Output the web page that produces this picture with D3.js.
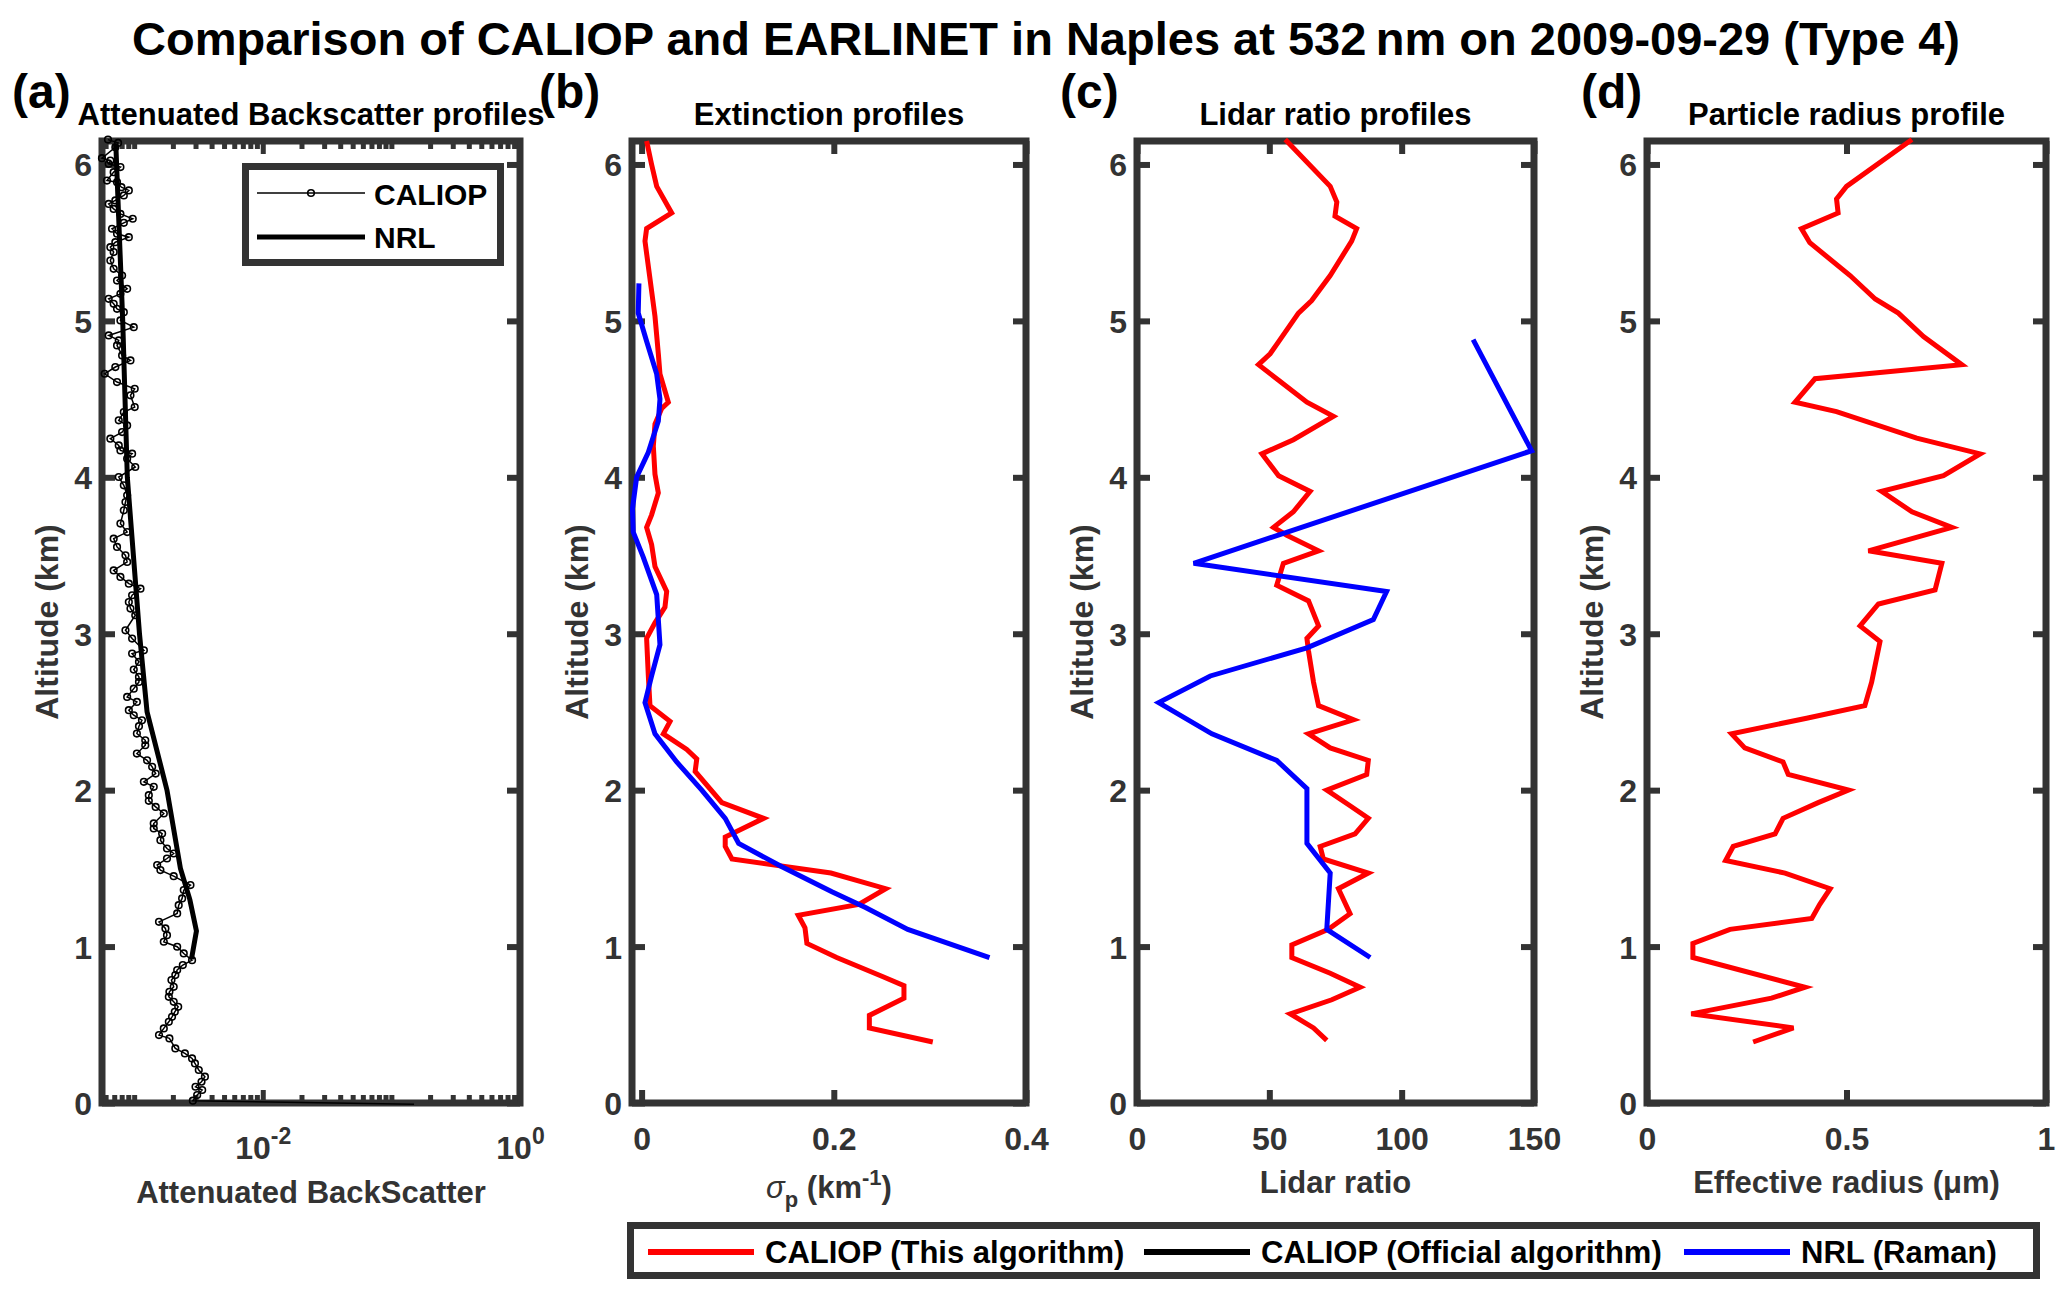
<!DOCTYPE html>
<html><head><meta charset="utf-8">
<script src="https://cdn.jsdelivr.net/npm/d3@7"></script>
<style>
body{margin:0;background:#fff}
text{font-family:"Liberation Sans",Arial,Helvetica,sans-serif;font-weight:bold}
</style></head>
<body><svg id="c" width="2067" height="1298"></svg>
<script>
// ---------------- DATA ----------------
const chartTitle = "Comparison of CALIOP and EARLINET in Naples at 532\u2009nm on 2009-09-29 (Type 4)";
const panelLetters = ["(a)", "(b)", "(c)", "(d)"];
const panelTitles = ["Attenuated Backscatter profiles", "Extinction profiles", "Lidar ratio profiles", "Particle radius profile"];
const yLabel = "Altitude (km)";
const xLabels = ["Attenuated BackScatter", "σp (km-1)", "Lidar ratio", "Effective radius (μm)"];
const altTicks = [0, 1, 2, 3, 4, 5, 6];
const logMajorTicks = [1e-2, 1];
const extTicks = [0, 0.2, 0.4];
const lidarTicks = [0, 50, 100, 150];
const radiusTicks = [0, 0.5, 1];
const legendA = ["CALIOP", "NRL"];
const legendMain = ["CALIOP (This algorithm)", "CALIOP (Official algorithm)", "NRL (Raman)"];

// (a) attenuated backscatter
const attCaliopAlt = [6.159,6.138,6.110,6.040,6.025,6.004,5.983,5.951,5.897,5.887,5.855,5.834,5.802,5.770,5.748,5.716,5.684,5.653,5.627,5.589,
5.557,5.535,5.503,5.471,5.440,5.386,5.333,5.290,5.258,5.205,5.173,5.141,5.109,5.077,5.056,5.003,4.960,4.907,4.875,4.843,
4.779,4.747,4.705,4.662,4.609,4.566,4.524,4.449,4.417,4.364,4.332,4.289,4.247,4.204,4.172,4.151,4.119,4.066,4.002,3.949,
3.885,3.842,3.789,3.704,3.650,3.608,3.555,3.501,3.459,3.405,3.363,3.320,3.288,3.246,3.203,3.161,3.118,3.022,
2.969,2.894,2.873,2.820,2.771,2.724,2.692,2.649,2.596,2.564,2.511,2.479,2.447,2.409,2.362,2.319,2.287,2.234,2.191,2.149,
2.106,2.053,2.021,1.968,1.932,1.893,1.851,1.787,1.755,1.723,1.680,1.627,1.595,1.563,1.521,1.489,1.450,1.393,1.361,1.308,
1.265,1.212,1.158,1.116,1.073,1.031,0.999,0.956,0.913,0.882,0.850,0.818,0.786,0.743,0.711,0.679,0.647,0.615,0.583,0.551,
0.519,0.477,0.434,0.413,0.349,0.317,0.285,0.253,0.211,0.168,0.136,0.104,0.083,0.051,0.015,-0.008];
const attCaliopVal = [6.26e-4,7.50e-4,7.14e-4,5.62e-4,6.53e-4,6.34e-4,7.82e-4,6.93e-4,6.15e-4,7.36e-4,7.96e-4,9.09e-4,8.31e-4,7.14e-4,6.34e-4,6.93e-4,7.82e-4,9.75e-4,8.31e-4,6.73e-4,
7.36e-4,9.09e-4,7.14e-4,6.53e-4,6.93e-4,6.53e-4,6.93e-4,8.06e-4,7.36e-4,8.82e-4,7.82e-4,6.34e-4,6.93e-4,7.36e-4,8.31e-4,7.82e-4,9.93e-4,6.34e-4,7.59e-4,7.36e-4,
8.06e-4,9.36e-4,7.14e-4,5.90e-4,7.36e-4,1.01e-3,9.36e-4,1.01e-3,8.31e-4,7.59e-4,8.82e-4,8.06e-4,6.53e-4,7.59e-4,7.82e-4,9.64e-4,8.82e-4,1.02e-3,7.59e-4,8.31e-4,
8.82e-4,8.56e-4,8.31e-4,7.82e-4,8.82e-4,6.93e-4,7.36e-4,8.56e-4,8.82e-4,6.93e-4,7.82e-4,9.09e-4,1.12e-3,9.64e-4,9.09e-4,9.36e-4,1.02e-3,8.56e-4,
9.64e-4,1.19e-3,9.64e-4,1.09e-3,9.93e-4,1.09e-3,1.09e-3,9.93e-4,8.82e-4,1.05e-3,9.09e-4,9.93e-4,1.15e-3,1.09e-3,1.05e-3,1.22e-3,1.22e-3,1.05e-3,1.26e-3,1.38e-3,
1.47e-3,1.19e-3,1.42e-3,1.30e-3,1.30e-3,1.47e-3,1.70e-3,1.42e-3,1.42e-3,1.65e-3,1.60e-3,1.80e-3,2.03e-3,1.80e-3,1.51e-3,1.60e-3,2.03e-3,2.74e-3,2.43e-3,2.36e-3,
2.22e-3,2.16e-3,1.56e-3,1.75e-3,1.80e-3,1.70e-3,2.16e-3,2.43e-3,2.82e-3,2.39e-3,2.16e-3,2.09e-3,1.95e-3,2.03e-3,1.88e-3,1.86e-3,2.03e-3,2.20e-3,2.07e-3,1.97e-3,
1.86e-3,1.70e-3,1.56e-3,1.88e-3,2.09e-3,2.48e-3,2.82e-3,2.97e-3,3.18e-3,3.55e-3,3.34e-3,3.00e-3,3.38e-3,3.09e-3,2.86e-3,0.15];
const attNrlAlt = [6.13, 5.0, 4.0, 3.0, 2.5, 2.0, 1.5, 1.3, 1.1, 0.92];
const attNrlVal = [7.2e-4, 8.15e-4, 8.85e-4, 1.10e-3, 1.26e-3, 1.80e-3, 2.29e-3, 2.71e-3, 3.05e-3, 2.79e-3];

// (b) extinction
const extCaliopAlt = [6.15,6.00,5.86,5.69,5.59,5.51,5.03,4.79,4.66,4.48,4.44,4.34,4.20,4.02,3.90,3.76,3.68,3.57,3.43,3.27,3.17,3.07,2.97,2.73,2.54,2.44,2.36,2.26,2.20,2.12,1.92,1.82,1.70,1.64,1.56,1.47,1.37,1.27,1.20,1.12,1.02,0.93,0.81,0.75,0.67,0.56,0.48,0.39];
const extCaliopVal = [0.0052,0.0104,0.0157,0.0313,0.0052,0.0035,0.0139,0.0174,0.0191,0.0278,0.0209,0.0139,0.0122,0.0139,0.0174,0.0104,0.0052,0.0104,0.0139,0.0261,0.0243,0.0139,0.0052,0.0070,0.0087,0.0296,0.0226,0.0470,0.0574,0.0557,0.0835,0.127,0.087,0.087,0.094,0.197,0.254,0.226,0.163,0.170,0.172,0.203,0.250,0.273,0.273,0.237,0.237,0.303];
const extNrlAlt = [5.24,5.05,4.87,4.66,4.50,4.36,4.16,4.00,3.80,3.65,3.49,3.25,2.93,2.73,2.56,2.36,2.18,2.00,1.82,1.66,1.51,1.35,1.25,1.11,0.93];
const extNrlVal = [-0.0028,-0.0035,0.0052,0.0157,0.0191,0.0174,0.0070,-0.0052,-0.0095,-0.0087,0.0017,0.0157,0.0191,0.0104,0.0035,0.0139,0.0365,0.0626,0.087,0.101,0.146,0.198,0.233,0.277,0.362];

// (c) lidar ratio
const lrCaliopAlt = [6.16,5.86,5.76,5.67,5.59,5.51,5.29,5.13,5.05,4.85,4.79,4.72,4.62,4.48,4.39,4.24,4.15,4.01,3.91,3.78,3.68,3.63,3.53,3.45,3.31,3.21,3.05,2.97,2.89,2.69,2.54,2.45,2.36,2.27,2.19,2.10,2.00,1.90,1.82,1.72,1.64,1.56,1.47,1.37,1.21,1.11,1.01,0.93,0.83,0.74,0.66,0.57,0.48,0.40];
const lrCaliopVal = [56.0,73.0,75.5,74.8,83.0,81.1,73.0,66.0,61.0,52.8,50.3,45.9,53.5,64.2,74.2,59.1,47.2,53.5,65.4,59.1,51.6,56.6,68.6,55.3,52.8,64.8,68.6,64.2,64.8,66.7,68.6,81.8,64.8,73.0,87.4,86.8,71.7,80.5,87.4,82.4,69.2,70.4,87.4,76.1,80.5,72.3,58.5,58.5,73.0,84.3,73.6,57.9,66.7,71.7];
const lrNrlAlt = [4.88,4.17,3.45,3.27,3.09,2.91,2.73,2.56,2.36,2.19,2.01,1.66,1.47,1.11,0.93];
const lrNrlVal = [127.0,149.1,21.4,94.3,89.3,64.2,27.7,8.2,28.3,52.8,64.2,64.2,73.0,71.7,88.1];

// (d) effective radius
const radCaliopAlt = [6.16,5.86,5.78,5.69,5.59,5.50,5.29,5.14,5.05,4.90,4.72,4.63,4.48,4.42,4.25,4.15,4.01,3.91,3.78,3.68,3.53,3.45,3.28,3.19,3.05,2.95,2.69,2.54,2.46,2.36,2.27,2.18,2.10,2.00,1.92,1.82,1.72,1.64,1.55,1.47,1.37,1.27,1.18,1.11,1.02,0.93,0.74,0.67,0.57,0.48,0.39];
const radCaliopVal = [0.664,0.500,0.475,0.479,0.387,0.408,0.509,0.572,0.630,0.693,0.789,0.421,0.371,0.475,0.676,0.835,0.743,0.588,0.664,0.764,0.555,0.739,0.722,0.580,0.534,0.584,0.563,0.546,0.400,0.212,0.245,0.341,0.354,0.505,0.429,0.341,0.321,0.216,0.197,0.346,0.459,0.433,0.413,0.208,0.115,0.115,0.396,0.312,0.111,0.367,0.266];

// ---------------- DRAWING ----------------
const svg = d3.select("#c");
const AX = "#333333";
const TOP = 141, BOT = 1103;
const y = d3.scaleLinear().domain([0, 6.15]).range([BOT, TOP]);

const panels = [
  {L: 102,  R: 520,  x: d3.scaleLog().domain([Math.pow(10, -3.25), 1])},
  {L: 632,  R: 1026, x: d3.scaleLinear().domain([-0.01, 0.4])},
  {L: 1137, R: 1534, x: d3.scaleLinear().domain([0, 150])},
  {L: 1647, R: 2046, x: d3.scaleLinear().domain([0, 1])}
];
panels.forEach(p => p.x.range([p.L, p.R]));

const zipAV = (a, v) => a.map((alt, i) => ({alt, v: v[i]}));
const lineFor = xs => d3.line().x(d => xs(d.v)).y(d => y(d.alt));

const axesLayer = svg.append("g");
const dataLayer = svg.append("g");
const textLayer = svg.append("g");

// Title
textLayer.append("text").attr("x", 1046).attr("y", 55).attr("text-anchor", "middle")
  .attr("font-size", 47).attr("fill", "#000").text(chartTitle);

// Panel letters & titles
const letterX = [12, 539, 1060, 1581];
panels.forEach((p, i) => {
  textLayer.append("text").attr("x", letterX[i]).attr("y", 108).attr("font-size", 48).attr("fill", "#000").text(panelLetters[i]);
  textLayer.append("text").attr("x", (p.L + p.R) / 2).attr("y", 125).attr("text-anchor", "middle")
    .attr("font-size", 31).attr("fill", "#000").text(panelTitles[i]);
});

// ---------- axes ----------
const TL = 13;  // tick length
function styleAxis(g) {
  g.select(".domain").remove();
  g.attr("font-family", null).attr("font-size", null).attr("color", AX);
  g.selectAll(".tick line").attr("stroke", AX).attr("stroke-width", 6);
}
const xTickSets = [null, extTicks, lidarTicks, radiusTicks];
const xFmt = [null, d => d === 0 ? "0" : d3.format(".1f")(d), d => String(d), d => d === 0 ? "0" : (d === 1 ? "1" : d3.format(".1f")(d))];

panels.forEach((p, i) => {
  // box
  axesLayer.append("rect").attr("x", p.L).attr("y", TOP).attr("width", p.R - p.L).attr("height", BOT - TOP)
    .attr("fill", "none").attr("stroke", AX).attr("stroke-width", 7);
  // left y axis with labels
  const gl = axesLayer.append("g").attr("transform", `translate(${p.L},0)`)
    .call(d3.axisLeft(y).tickValues(altTicks).tickSize(-TL).tickPadding(10).tickFormat(d3.format("d")));
  styleAxis(gl);
  gl.selectAll(".tick text").attr("font-size", 32).attr("fill", AX).attr("dy", "0.36em");
  // right y axis (ticks only)
  const gr = axesLayer.append("g").attr("transform", `translate(${p.R},0)`)
    .call(d3.axisRight(y).tickValues(altTicks).tickSize(-TL).tickFormat(""));
  styleAxis(gr);

  if (i === 0) {
    const [lo, hi] = p.x.domain();
    const allTicks = [];
    for (let e = -4; e <= 0; e++) for (let k = 1; k <= 9; k++) {
      const v = k * Math.pow(10, e);
      if (v >= lo && v <= hi * 1.0001) allTicks.push(v);
    }
    const isMajor = v => logMajorTicks.some(m => Math.abs(Math.log10(v) - Math.log10(m)) < 1e-6);
    const gb = axesLayer.append("g").attr("transform", `translate(0,${BOT})`)
      .call(d3.axisBottom(p.x).tickValues(allTicks).tickSize(-TL).tickPadding(0).tickFormat(d => isMajor(d) ? "10" : ""));
    styleAxis(gb);
    gb.selectAll(".tick line").attr("y2", d => isMajor(d) ? -TL : -8).attr("stroke-width", 5);
    gb.selectAll(".tick text").attr("y", 56).attr("dy", null).attr("font-size", 32).attr("fill", AX)
      .each(function(d) {
        if (!isMajor(d)) return;
        d3.select(this).append("tspan").attr("dy", -15).attr("font-size", 23)
          .text(String(Math.round(Math.log10(d))));
      });
    const gt = axesLayer.append("g").attr("transform", `translate(0,${TOP})`)
      .call(d3.axisTop(p.x).tickValues(allTicks).tickSize(-TL).tickFormat(""));
    styleAxis(gt);
    gt.selectAll(".tick line").attr("y2", d => isMajor(d) ? TL : 8).attr("stroke-width", 5);
  } else {
    const gb = axesLayer.append("g").attr("transform", `translate(0,${BOT})`)
      .call(d3.axisBottom(p.x).tickValues(xTickSets[i]).tickSize(-TL).tickPadding(0).tickFormat(xFmt[i]));
    styleAxis(gb);
    gb.selectAll(".tick text").attr("y", 47).attr("dy", null).attr("font-size", 32).attr("fill", AX);
    const gt = axesLayer.append("g").attr("transform", `translate(0,${TOP})`)
      .call(d3.axisTop(p.x).tickValues(xTickSets[i]).tickSize(-TL).tickFormat(""));
    styleAxis(gt);
  }

  // y label
  textLayer.append("text").attr("transform", `translate(${p.L - 44},${(TOP + BOT) / 2}) rotate(-90)`)
    .attr("text-anchor", "middle").attr("font-size", 32).attr("fill", AX).text(yLabel);
});

// ---------- data lines (drawn above the axes, as in the original) ----------
const RED = "#ff0000", BLUE = "#0000ff";
function drawLine(p, alt, val, color, w) {
  dataLayer.append("path").datum(zipAV(alt, val)).attr("d", lineFor(p.x))
    .attr("fill", "none").attr("stroke", color).attr("stroke-width", w)
    .attr("stroke-linejoin", "miter").attr("stroke-miterlimit", 4);
}
// (a)
drawLine(panels[0], attCaliopAlt, attCaliopVal, "#000", 1.5);
dataLayer.append("g").selectAll("circle").data(zipAV(attCaliopAlt, attCaliopVal).filter(d => d.alt >= 0))
  .join("circle").attr("cx", d => panels[0].x(d.v)).attr("cy", d => y(d.alt)).attr("r", 3.3)
  .attr("fill", "none").attr("stroke", "#000").attr("stroke-width", 1.6);
drawLine(panels[0], attNrlAlt, attNrlVal, "#000", 5);
// (b)
drawLine(panels[1], extCaliopAlt, extCaliopVal, RED, 5);
drawLine(panels[1], extNrlAlt, extNrlVal, BLUE, 5);
// (c)
drawLine(panels[2], lrCaliopAlt, lrCaliopVal, RED, 5);
drawLine(panels[2], lrNrlAlt, lrNrlVal, BLUE, 5);
// (d)
drawLine(panels[3], radCaliopAlt, radCaliopVal, RED, 5);

// x labels
const xlY = [1203, 1198, 1193, 1193];
panels.forEach((p, i) => {
  const cx = (p.L + p.R) / 2;
  const t = textLayer.append("text").attr("x", cx).attr("y", xlY[i]).attr("text-anchor", "middle")
    .attr("font-size", 31).attr("fill", AX);
  if (i === 1) {
    const m = xLabels[1].match(/^(σ)(p) \((km)(-1)\)$/);
    t.append("tspan").attr("font-style", "italic").attr("font-weight", "normal").text(m[1]);
    t.append("tspan").attr("dy", 9).attr("font-size", 22).text(m[2]);
    t.append("tspan").attr("dy", -9).text(" (" + m[3]);
    t.append("tspan").attr("dy", -13).attr("font-size", 22).text(m[4]);
    t.append("tspan").attr("dy", 13).text(")");
  } else {
    t.text(xLabels[i]);
  }
});

// ---------- legend in panel (a) ----------
const la = svg.append("g");
la.append("rect").attr("x", 245.5).attr("y", 166.5).attr("width", 255).attr("height", 96)
  .attr("fill", "#fff").attr("stroke", AX).attr("stroke-width", 7);
la.append("line").attr("x1", 257).attr("x2", 365).attr("y1", 193).attr("y2", 193).attr("stroke", "#000").attr("stroke-width", 1.5);
la.append("circle").attr("cx", 311).attr("cy", 193).attr("r", 3.3).attr("fill", "none").attr("stroke", "#000").attr("stroke-width", 1.6);
la.append("text").attr("x", 374).attr("y", 205).attr("font-size", 30).attr("fill", "#000").text(legendA[0]);
la.append("line").attr("x1", 257).attr("x2", 365).attr("y1", 237).attr("y2", 237).attr("stroke", "#000").attr("stroke-width", 5);
la.append("text").attr("x", 374).attr("y", 248).attr("font-size", 30).attr("fill", "#000").text(legendA[1]);

// ---------- bottom legend ----------
const lg = svg.append("g");
lg.append("rect").attr("x", 630.5).attr("y", 1225.5).attr("width", 1406).attr("height", 50)
  .attr("fill", "#fff").attr("stroke", AX).attr("stroke-width", 7);
const legColors = [RED, "#000", BLUE];
const legLineX = [648, 1144, 1684];
legendMain.forEach((name, i) => {
  lg.append("line").attr("x1", legLineX[i]).attr("x2", legLineX[i] + 106).attr("y1", 1252).attr("y2", 1252)
    .attr("stroke", legColors[i]).attr("stroke-width", 6);
  lg.append("text").attr("x", legLineX[i] + 117).attr("y", 1263).attr("font-size", 31).attr("fill", "#000").text(name);
});
</script>
</body></html>
